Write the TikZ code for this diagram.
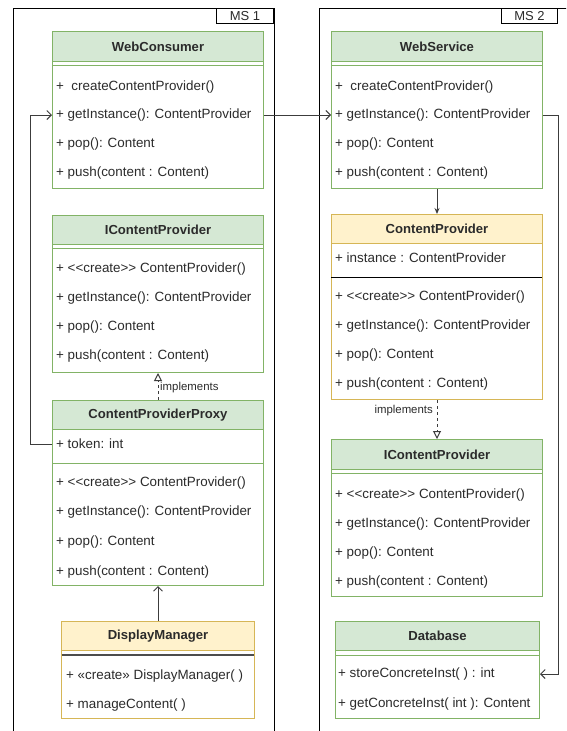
\documentclass[tikz,border=0pt]{standalone}
\usepackage{fontspec}
\setmainfont{Liberation Sans}
\usetikzlibrary{arrows.meta}
\definecolor{gfill}{HTML}{D5E8D4}
\definecolor{gline}{HTML}{82B366}
\definecolor{yfill}{HTML}{FFF2CC}
\definecolor{yline}{HTML}{D6B656}
\definecolor{txt}{HTML}{2B2B2B}
\definecolor{conc}{HTML}{3C3C3C}
\newcommand\mylt{<\kern0pt<}
\newcommand\mygt{>\kern0pt>}
\begin{document}
\begin{tikzpicture}[x=1pt,y=-1pt,
  every node/.style={text=txt, font=\fontsize{13.4}{15}\selectfont},
  gbody/.style={draw=gline, fill=white, line width=1pt, anchor=north west, inner sep=0pt},
  ybody/.style={draw=yline, fill=white, line width=1pt, anchor=north west, inner sep=0pt},
  ghead/.style={draw=gline, fill=gfill, line width=1pt, anchor=north west, inner sep=0pt, font=\fontsize{13.1}{15}\selectfont\bfseries},
  yhead/.style={draw=yline, fill=yfill, line width=1pt, anchor=north west, inner sep=0pt, font=\fontsize{13.1}{15}\selectfont\bfseries},
  row/.style={anchor=west, inner sep=0pt},
  gsep/.style={draw=gline, line width=1pt},
  frame/.style={draw=black, line width=1pt},
  mslabel/.style={draw=black, fill=white, line width=1pt, anchor=north east, inner sep=0pt, minimum height=15pt, font=\fontsize{13}{15}\selectfont},
  conn/.style={draw=conc, line width=1pt},
  barb/.style={-{Straight Barb[length=4.5pt,width=9pt,line width=1pt]}},
  impl/.style={draw=conc, line width=1pt, dash pattern=on 3pt off 3pt, -{Triangle[open,length=8pt,width=8pt,line width=1pt,sep=0pt]}},
  impllabel/.style={inner sep=0pt, font=\fontsize{11.4}{13}\selectfont}
]
\useasboundingbox (0,0) rectangle (566,731);
\clip (0,0) rectangle (566,731);
\fill[white] (0,0) rectangle (566,731);

% ---------- frames ----------
\draw[frame] (13,745) -- (13,8) -- (274,8) -- (274,745);
\node[mslabel, minimum width=57pt] (ms1) at (274,8) {MS 1};
\draw[frame] (319,745) -- (319,8) -- (580,8) -- (580,745);
\node[mslabel, minimum width=56pt] (ms2) at (558,8) {MS 2};

% ---------- WebConsumer ----------
\node[gbody, minimum width=211pt, minimum height=157pt] (wc) at (52,31) {};
\node[ghead, minimum width=211pt, minimum height=30pt] (wch) at (52,31) {WebConsumer};
\draw[gsep] (52,65) -- (263,65);
\node[row] (wc1) at (56,87) {+\ \ createContentProvider()};
\node[row] (wc2) at (56,115) {+ getInstance(): ContentProvider};
\node[row] (wc3) at (56,144) {+ pop(): Content};
\node[row] (wc4) at (56,173) {+ push(content : Content)};

% ---------- WebService ----------
\node[gbody, minimum width=211pt, minimum height=157pt] (ws) at (331,31) {};
\node[ghead, minimum width=211pt, minimum height=30pt] (wsh) at (331,31) {WebService};
\draw[gsep] (331,65) -- (542,65);
\node[row] (ws1) at (335,87) {+\ \ createContentProvider()};
\node[row] (ws2) at (335,115) {+ getInstance(): ContentProvider};
\node[row] (ws3) at (335,144) {+ pop(): Content};
\node[row] (ws4) at (335,173) {+ push(content : Content)};

% ---------- IContentProvider (left) ----------
\node[gbody, minimum width=211pt, minimum height=157pt] (icl) at (52,215) {};
\node[ghead, minimum width=211pt, minimum height=29pt] (iclh) at (52,215) {IContentProvider};
\draw[gsep] (52,248) -- (263,248);
\node[row] (icl1) at (56,269) {+ \mylt create\mygt\ ContentProvider()};
\node[row] (icl2) at (56,298) {+ getInstance(): ContentProvider};
\node[row] (icl3) at (56,327) {+ pop(): Content};
\node[row] (icl4) at (56,356) {+ push(content : Content)};

% ---------- ContentProviderProxy ----------
\node[gbody, minimum width=211pt, minimum height=185pt] (cpp) at (52,400) {};
\node[ghead, minimum width=211pt, minimum height=29pt] (cpph) at (52,400) {ContentProviderProxy};
\draw[gsep] (52,463) -- (263,463);
\node[row] (cpp1) at (56,444) {+ token: int};
\node[row] (cpp2) at (56,483) {+ \mylt create\mygt\ ContentProvider()};
\node[row] (cpp3) at (56,512) {+ getInstance(): ContentProvider};
\node[row] (cpp4) at (56,542) {+ pop(): Content};
\node[row] (cpp5) at (56,572) {+ push(content : Content)};

% ---------- DisplayManager ----------
\node[ybody, minimum width=193pt, minimum height=97pt] (dm) at (61,621) {};
\node[yhead, minimum width=193pt, minimum height=29pt] (dmh) at (61,621) {DisplayManager};
\draw[draw=black!70, line width=1.6pt] (61.5,655) -- (253.5,655);
\node[row] (dm1) at (66,676) {+ «create» DisplayManager( )};
\node[row] (dm2) at (66,705) {+ manageContent( )};

% ---------- ContentProvider ----------
\node[ybody, minimum width=211pt, minimum height=185pt] (cp) at (331,214) {};
\node[yhead, minimum width=211pt, minimum height=29pt] (cph) at (331,214) {ContentProvider};
\draw[draw=black, line width=1pt] (331,277) -- (542,277);
\node[row] (cp1) at (335,258) {+ instance : ContentProvider};
\node[row] (cp2) at (335,297) {+ \mylt create\mygt\ ContentProvider()};
\node[row] (cp3) at (335,326) {+ getInstance(): ContentProvider};
\node[row] (cp4) at (335,355) {+ pop(): Content};
\node[row] (cp5) at (335,384) {+ push(content : Content)};

% ---------- IContentProvider (right) ----------
\node[gbody, minimum width=211pt, minimum height=157pt] (icr) at (331,439) {};
\node[ghead, minimum width=211pt, minimum height=30pt] (icrh) at (331,439) {IContentProvider};
\draw[gsep] (331,473) -- (542,473);
\node[row] (icr1) at (335,495) {+ \mylt create\mygt\ ContentProvider()};
\node[row] (icr2) at (335,524) {+ getInstance(): ContentProvider};
\node[row] (icr3) at (335,553) {+ pop(): Content};
\node[row] (icr4) at (335,582) {+ push(content : Content)};

% ---------- Database ----------
\node[gbody, minimum width=204pt, minimum height=97pt] (db) at (335,621) {};
\node[ghead, minimum width=204pt, minimum height=29pt] (dbh) at (335,621) {Database};
\draw[gsep] (335,655) -- (539,655);
\node[row] (db1) at (338,674) {+ storeConcreteInst( ) : int};
\node[row] (db2) at (338,704) {+ getConcreteInst( int ): Content};

% ---------- connectors ----------
\coordinate (bendL) at (30,0);
\coordinate (bendR) at (558,0);
\draw[conn, barb] (cpp.west |- cpp1) -- (bendL |- cpp1) -- (bendL |- wc2) -- (wc.west |- wc2);
\draw[conn, barb] (wc.east |- wc2) -- (ws.west |- ws2);
\draw[conn, barb] (ws.east |- ws2) -- (bendR |- ws2) -- (bendR |- db1) -- (db.east |- db1);
\draw[conn, -{Stealth[length=6pt,width=5pt]}] (ws.south) -- (cp.north);
\draw[impl] (cp.south) -- (icr.north);
\node[impllabel, anchor=east] (implR) at (433,411) {implements};
\draw[impl] (cpp.north) -- (icl.south);
\node[impllabel, anchor=west] (implL) at (160,388) {implements};
\draw[conn, barb] (dm.north) -- (cpp.south);
\end{tikzpicture}
\end{document}
